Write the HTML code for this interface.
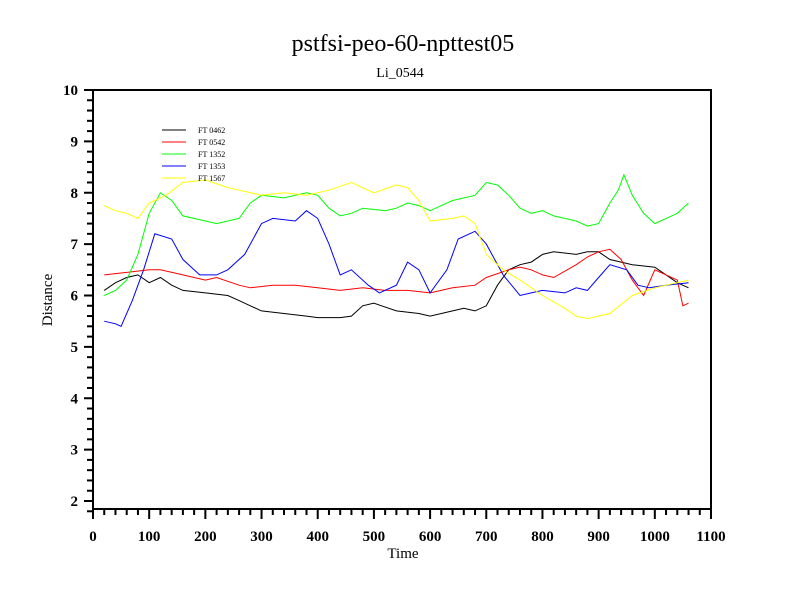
<!DOCTYPE html>
<html><head><meta charset="utf-8"><style>body{margin:0;background:#fff}svg{display:block;font-family:"Liberation Serif",serif}</style></head>
<body>
<svg id="chart" width="800" height="600" xmlns="http://www.w3.org/2000/svg">
<rect width="800" height="600" fill="#fff"/>
<text x="403" y="51" font-size="24" text-anchor="middle">pstfsi-peo-60-npttest05</text>
<text x="400" y="77" font-size="14" text-anchor="middle">Li_0544</text>
<text transform="translate(52,300) rotate(-90)" font-size="15" text-anchor="middle">Distance</text>
<text x="403" y="558" font-size="15" text-anchor="middle">Time</text>
<g id="axes"></g>
<g id="series"></g>
<g id="legend"></g>
</svg>
<script>
const xTicks=[0,100,200,300,400,500,600,700,800,900,1000,1100];
const yTicks=[2,3,4,5,6,7,8,9,10];
const seriesNames=["FT 0462","FT 0542","FT 1352","FT 1353","FT 1567"];
const seriesColors=["#000","#f00","#0f0","#00f","#ff0"];
const blackT=[20,40,60,80,100,120,140,160,200,240,260,280,300,340,380,400,440,460,480,500,540,580,600,640,660,680,700,720,740,760,780,800,820,860,880,900,920,960,1000,1020,1040,1060];
const blackV=[6.1,6.25,6.35,6.4,6.25,6.35,6.2,6.1,6.05,6.0,5.9,5.8,5.7,5.65,5.6,5.57,5.57,5.6,5.8,5.85,5.7,5.65,5.6,5.7,5.75,5.7,5.8,6.2,6.5,6.6,6.65,6.8,6.85,6.8,6.85,6.85,6.7,6.6,6.55,6.4,6.25,6.15];
const redT=[20,60,100,120,160,200,220,260,280,320,360,400,440,480,520,560,600,640,680,700,740,760,780,800,820,860,880,900,920,940,960,980,1000,1020,1040,1050,1060];
const redV=[6.4,6.45,6.5,6.5,6.4,6.3,6.35,6.2,6.15,6.2,6.2,6.15,6.1,6.15,6.1,6.1,6.05,6.15,6.2,6.35,6.5,6.55,6.5,6.4,6.35,6.6,6.75,6.85,6.9,6.7,6.3,6.0,6.5,6.4,6.3,5.8,5.85];
const greenT=[20,40,60,80,100,120,140,160,200,220,260,280,300,340,380,400,420,440,460,480,520,540,560,580,600,620,640,680,700,720,740,760,780,800,820,860,880,900,920,935,945,960,980,1000,1020,1040,1060];
const greenV=[6.0,6.1,6.3,6.8,7.6,8.0,7.85,7.55,7.45,7.4,7.5,7.8,7.95,7.9,8.0,7.95,7.7,7.55,7.6,7.7,7.65,7.7,7.8,7.75,7.65,7.75,7.85,7.95,8.2,8.15,7.95,7.7,7.6,7.65,7.55,7.45,7.35,7.4,7.8,8.05,8.35,7.95,7.6,7.4,7.5,7.6,7.8];
const blueT=[20,40,50,70,90,110,140,160,190,220,240,270,300,320,360,380,400,420,440,460,490,510,540,560,580,600,630,650,680,700,730,760,780,800,840,860,880,900,920,950,970,990,1020,1060];
const blueV=[5.5,5.45,5.4,5.9,6.5,7.2,7.1,6.7,6.4,6.4,6.5,6.8,7.4,7.5,7.45,7.65,7.5,7.0,6.4,6.5,6.2,6.05,6.2,6.65,6.5,6.05,6.5,7.1,7.25,7.0,6.4,6.0,6.05,6.1,6.05,6.15,6.1,6.35,6.6,6.5,6.2,6.15,6.2,6.25];
const yellowT=[20,40,60,80,100,130,160,200,240,260,300,340,380,420,460,500,540,560,580,600,640,660,680,700,730,760,800,840,860,880,920,960,1000,1020,1060];
const yellowV=[7.75,7.65,7.6,7.5,7.8,7.95,8.2,8.25,8.1,8.05,7.95,8.0,7.95,8.05,8.2,8.0,8.15,8.1,7.85,7.45,7.5,7.55,7.4,6.8,6.5,6.3,6.0,5.75,5.6,5.55,5.65,6.0,6.15,6.2,6.3];
const seriesT=[blackT,redT,greenT,blueT,yellowT];
const seriesV=[blackV,redV,greenV,blueV,yellowV];

const NS="http://www.w3.org/2000/svg";
const X0=93,X1=711,YTOP=90,YBOT=509;
const xs=t=>X0+t*(X1-X0)/1100;
const ys=v=>90+(10-v)*51.375;
function mk(tag,attrs,parent){const e=document.createElementNS(NS,tag);for(const k in attrs)e.setAttribute(k,attrs[k]);parent.appendChild(e);return e;}
const axes=document.getElementById('axes');
const box=mk('rect',{x:X0,y:YTOP,width:X1-X0,height:YBOT-YTOP,fill:'none',stroke:'#000','stroke-width':2},axes);


for(let t=0;t<=1100;t+=20){
  const major=t%100===0;
  const l=mk('line',{x1:xs(t),x2:xs(t),y1:YBOT,y2:YBOT+(major?10:6),stroke:'#000','stroke-width':2},axes);
  
  
}
xTicks.forEach(t=>{
  const tx=mk('text',{x:xs(t),y:541,'font-size':15,'font-weight':'bold','text-anchor':'middle'},axes);
  tx.textContent=t;
  
  
});
for(let i=9;i<=50;i++){
  const v=i/5;
  const major=i%5===0;
  const l=mk('line',{x1:X0-(major?9:6),x2:X0,y1:ys(v),y2:ys(v),stroke:'#000','stroke-width':2},axes);
  
  
}
yTicks.forEach(v=>{
  const tx=mk('text',{x:78,y:ys(v)+5,'font-size':15,'font-weight':'bold','text-anchor':'end'},axes);
  tx.textContent=v;
  
  
});
const sg=document.getElementById('series');
seriesNames.forEach((n,i)=>{
  const pts=seriesT[i].map((t,j)=>xs(t).toFixed(1)+','+ys(seriesV[i][j]).toFixed(1)).join(' ');
  const p=mk('polyline',{points:pts,fill:'none',stroke:seriesColors[i],'stroke-width':1},sg);
  
  
});
const lg=document.getElementById('legend');
seriesNames.forEach((n,i)=>{
  const y=130+i*12;
  const l=mk('line',{x1:162,x2:186,y1:y,y2:y,stroke:seriesColors[i],'stroke-width':1},lg);
  
  
  const tx=mk('text',{x:198,y:y+3,'font-size':8},lg);
  tx.textContent=n;
  
  
});
</script>
</body></html>
